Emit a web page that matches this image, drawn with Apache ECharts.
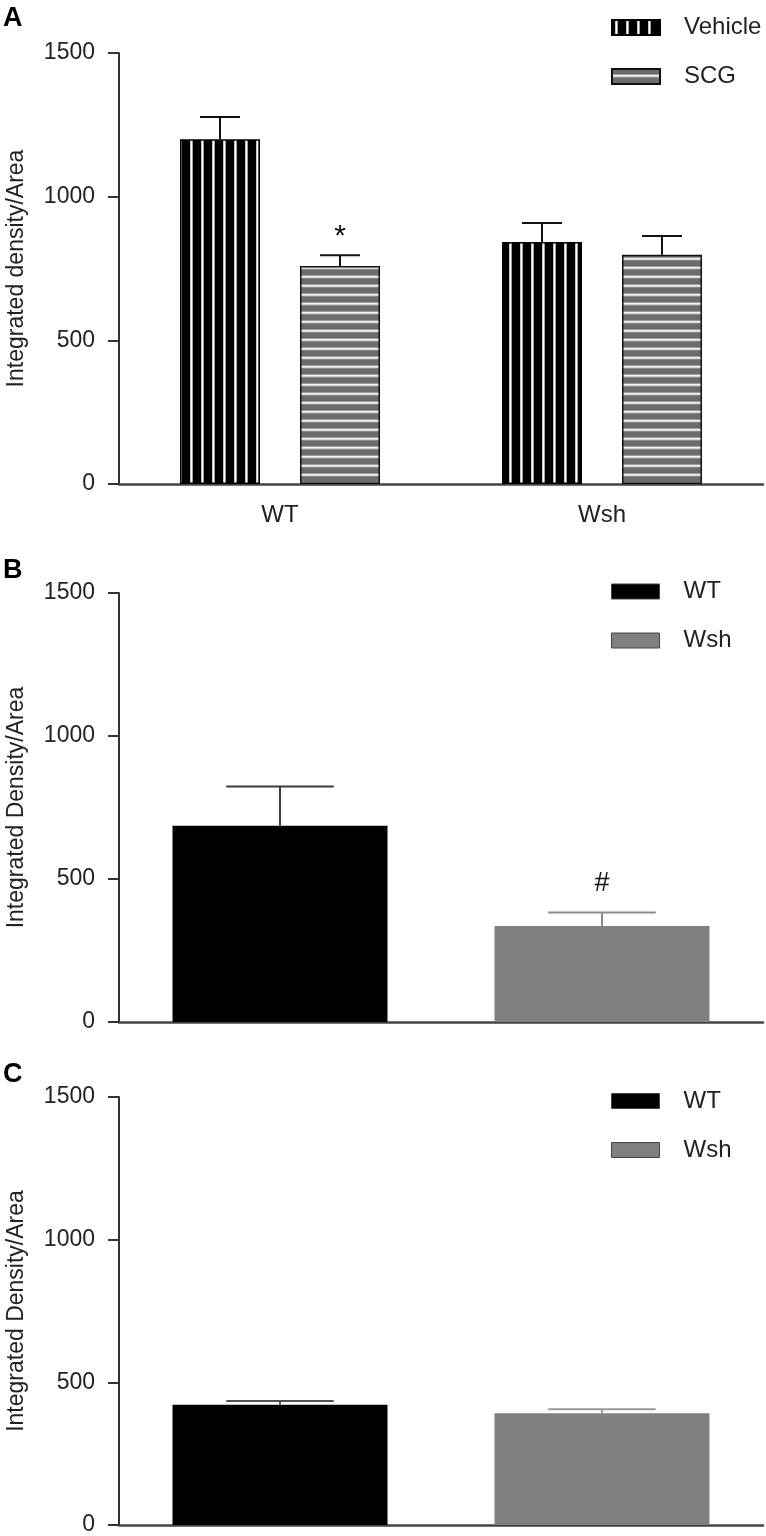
<!DOCTYPE html>
<html>
<head>
<meta charset="utf-8">
<script src="https://cdn.jsdelivr.net/npm/echarts@6.0.0/dist/echarts.min.js"></script>
<style>
  html, body { margin: 0; padding: 0; background: #fff; }
  #chart { width: 766px; height: 1536px; }
</style>
</head>
<body>
<div id="chart"></div>
<script>
// ---------- DATA ----------
const yTicks = [0, 500, 1000, 1500];

// Panel A
const groupsA = ['WT', 'Wsh'];
const vehicleA = [1200, 842];
const vehicleSemA = [77, 66];
const scgA = [759, 798];
const scgSemA = [37, 65];
const scgSigA = ['*', ''];

// Panel B
const groupsB = ['WT', 'Wsh'];
const meansB = [686, 336];
const semB = [137, 47];
const sigB = ['', '#'];

// Panel C
const groupsC = ['WT', 'Wsh'];
const meansC = [421, 392];
const semC = [14, 14];
const sigC = ['', ''];

// ---------- STYLE ----------
const FONT = 'Liberation Sans, Arial, sans-serif';
const AXIS_COLOR = '#333';
const A_BAR_W = 80, A_GAP = 0.5;
const BC_BAR_W = 215;
const SIG_STYLE = { '*': { size: 30, dy: -19 }, '#': { size: 27, dy: -29 } };

function makeVerticalStripe() {
  const c = document.createElement('canvas');
  c.width = 11; c.height = 4;
  const ctx = c.getContext('2d');
  ctx.fillStyle = '#000'; ctx.fillRect(0, 0, 11, 4);
  ctx.fillStyle = '#c8c8c8'; ctx.fillRect(3, 0, 1, 4);
  ctx.fillStyle = '#ffffff'; ctx.fillRect(4, 0, 1, 4);
  ctx.fillStyle = '#a0a0a0'; ctx.fillRect(5, 0, 1, 4);
  return c;
}
function makeHorizontalStripe() {
  const c = document.createElement('canvas');
  c.width = 4; c.height = 9;
  const ctx = c.getContext('2d');
  ctx.fillStyle = '#6c6c6c'; ctx.fillRect(0, 0, 4, 9);
  ctx.fillStyle = '#9c9c9c'; ctx.fillRect(0, 5, 4, 1);
  ctx.fillStyle = '#f2f2f2'; ctx.fillRect(0, 6, 4, 1);
  ctx.fillStyle = '#d4d4d4'; ctx.fillRect(0, 7, 4, 1);
  ctx.fillStyle = '#8a8a8a'; ctx.fillRect(0, 8, 4, 1);
  return c;
}
const vehiclePattern = { image: makeVerticalStripe(), repeat: 'repeat' };
const scgPattern = { image: makeHorizontalStripe(), repeat: 'repeat' };

function yAxisCfg(gridIndex, name) {
  return {
    type: 'value', gridIndex, min: yTicks[0], max: yTicks[yTicks.length - 1], interval: yTicks[1] - yTicks[0],
    name, nameLocation: 'middle', nameGap: 91, nameRotate: 90,
    nameTextStyle: { fontFamily: FONT, fontSize: 23, color: '#222' },
    axisLine: { show: true, lineStyle: { color: AXIS_COLOR, width: 2 } },
    axisTick: { show: true, length: 11, inside: false, lineStyle: { color: AXIS_COLOR, width: 2 } },
    axisLabel: { fontFamily: FONT, fontSize: 23, color: '#222', margin: 24, formatter: v => String(v) },
    splitLine: { show: false }
  };
}
function xAxisCfg(gridIndex, cats, showLabel) {
  return {
    type: 'category', gridIndex, data: cats,
    axisLine: { show: true, onZero: false, lineStyle: { color: '#444', width: 2.5 } },
    axisTick: { show: false },
    axisLabel: { show: showLabel, fontFamily: FONT, fontSize: 24, color: '#222', margin: 19 },
    splitLine: { show: false }
  };
}

function errSeries(axisIdx, means, sems, sigs, idxs, offset, barW, color) {
  return {
    type: 'custom', xAxisIndex: axisIdx, yAxisIndex: axisIdx, silent: true, z: 5,
    data: idxs.map(i => [i, means[i], means[i] + sems[i]]),
    renderItem: function (params, api) {
      const ci = api.value(0);
      const base = api.coord([ci, api.value(1)]);
      const top = api.coord([ci, api.value(2)]);
      const cx = base[0] + offset;
      const cap = barW * 0.5;
      const children = [
        { type: 'line', shape: { x1: cx, y1: base[1], x2: cx, y2: top[1] }, style: { stroke: color, lineWidth: 2 } },
        { type: 'line', shape: { x1: cx - cap / 2, y1: top[1], x2: cx + cap / 2, y2: top[1] }, style: { stroke: color, lineWidth: 2 } }
      ];
      const sig = sigs[ci];
      if (sig) {
        const st = SIG_STYLE[sig];
        children.push({ type: 'text', style: { text: sig, x: cx, y: top[1] + st.dy, align: 'center', verticalAlign: 'middle', font: st.size + 'px ' + FONT, fill: '#111' } });
      }
      return { type: 'group', children };
    }
  };
}

function legendCfg(top, names) {
  return {
    top, left: 611, orient: 'vertical', itemWidth: 48, itemHeight: 15, itemGap: 25, padding: 0,
    selectedMode: false,
    textStyle: { fontFamily: FONT, fontSize: 24, color: '#222', padding: [0, 0, 0, 19] },
    data: names.map(n => ({ name: n, icon: 'rect' }))
  };
}

const vehicleOffset = -(A_BAR_W * (1 + A_GAP)) / 2;
const scgOffset = (A_BAR_W * (1 + A_GAP)) / 2;

const option = {
  animation: false,
  backgroundColor: '#fff',
  grid: [
    { left: 119, right: 3, top: 53, height: 431, containLabel: false, outerBoundsMode: 'none' },
    { left: 119, right: 3, top: 593, height: 429, containLabel: false, outerBoundsMode: 'none' },
    { left: 119, right: 3, top: 1097, height: 428, containLabel: false, outerBoundsMode: 'none' }
  ],
  xAxis: [xAxisCfg(0, groupsA, true), xAxisCfg(1, groupsB, false), xAxisCfg(2, groupsC, false)],
  yAxis: [yAxisCfg(0, 'Integrated density/Area'), yAxisCfg(1, 'Integrated Density/Area'), yAxisCfg(2, 'Integrated Density/Area')],
  legend: [
    legendCfg(15.5, ['Vehicle', 'SCG']),
    Object.assign(legendCfg(579.5, groupsB.slice()), { itemStyle: { borderColor: '#444', borderWidth: 1 } }),
    Object.assign(legendCfg(1089, groupsC.slice()), { itemStyle: { borderColor: '#444', borderWidth: 1 } })
  ],
  graphic: [
    { type: 'text', left: 3, top: 5, style: { text: 'A', font: 'bold 27px ' + FONT, fill: '#000' } },
    { type: 'text', left: 3, top: 557, style: { text: 'B', font: 'bold 27px ' + FONT, fill: '#000' } },
    { type: 'text', left: 3, top: 1061, style: { text: 'C', font: 'bold 27px ' + FONT, fill: '#000' } }
  ],
  series: [
    { name: 'Vehicle', type: 'bar', xAxisIndex: 0, yAxisIndex: 0, data: vehicleA, barWidth: A_BAR_W, barGap: (A_GAP * 100) + '%',
      itemStyle: { color: vehiclePattern, borderColor: '#000', borderWidth: 1.5 } },
    { name: 'SCG', type: 'bar', xAxisIndex: 0, yAxisIndex: 0, data: scgA, barWidth: A_BAR_W, barGap: (A_GAP * 100) + '%',
      itemStyle: { color: scgPattern, borderColor: '#111', borderWidth: 1.5 } },
    errSeries(0, vehicleA, vehicleSemA, ['', ''], [0, 1], vehicleOffset, A_BAR_W, '#111'),
    errSeries(0, scgA, scgSemA, scgSigA, [0, 1], scgOffset, A_BAR_W, '#111'),

    { name: groupsB[0], type: 'bar', xAxisIndex: 1, yAxisIndex: 1, data: meansB.map((v, i) => i === 0 ? v : '-'),
      barWidth: BC_BAR_W, barGap: '-100%', itemStyle: { color: '#000' } },
    { name: groupsB[1], type: 'bar', xAxisIndex: 1, yAxisIndex: 1, data: meansB.map((v, i) => i === 1 ? v : '-'),
      barWidth: BC_BAR_W, barGap: '-100%', itemStyle: { color: '#808080' } },
    errSeries(1, meansB, semB, sigB, [0], 0, BC_BAR_W, '#3a3a3a'),
    errSeries(1, meansB, semB, sigB, [1], 0, BC_BAR_W, '#8a8a8a'),

    { name: groupsC[0], type: 'bar', xAxisIndex: 2, yAxisIndex: 2, data: meansC.map((v, i) => i === 0 ? v : '-'),
      barWidth: BC_BAR_W, barGap: '-100%', itemStyle: { color: '#000' } },
    { name: groupsC[1], type: 'bar', xAxisIndex: 2, yAxisIndex: 2, data: meansC.map((v, i) => i === 1 ? v : '-'),
      barWidth: BC_BAR_W, barGap: '-100%', itemStyle: { color: '#808080' } },
    errSeries(2, meansC, semC, sigC, [0], 0, BC_BAR_W, '#555'),
    errSeries(2, meansC, semC, sigC, [1], 0, BC_BAR_W, '#9a9a9a')
  ]
};

const chart = echarts.init(document.getElementById('chart'), null, { renderer: 'canvas', devicePixelRatio: 1 });
chart.setOption(option);
</script>
</body>
</html>
